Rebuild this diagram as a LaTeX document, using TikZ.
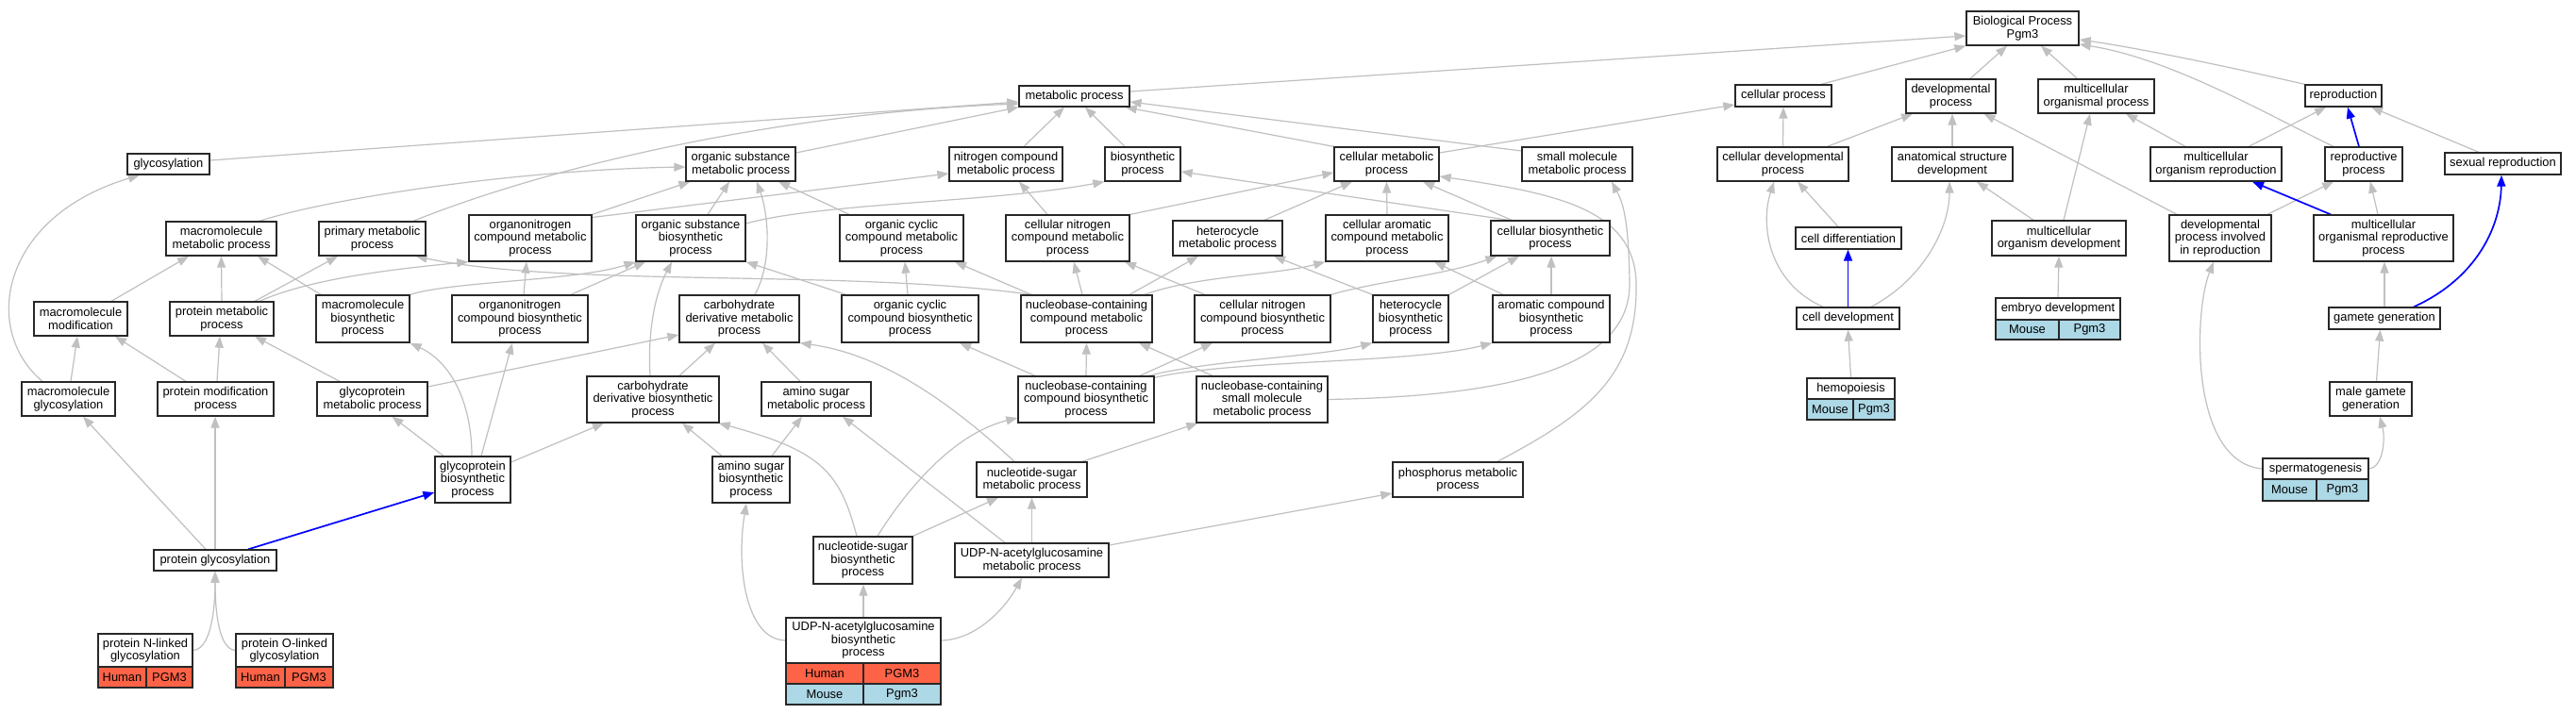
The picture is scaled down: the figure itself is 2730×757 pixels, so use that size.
\documentclass[tikz,border=0pt]{standalone}
\usepackage{fontspec}
\setmainfont{Liberation Sans}
\usetikzlibrary{arrows.meta}
\definecolor{edgegray}{RGB}{192,192,192}
\definecolor{hum}{RGB}{255,99,71}
\definecolor{mou}{RGB}{173,216,230}
\definecolor{bord}{RGB}{40,40,40}
\pgfdeclarelayer{bg}
\pgfsetlayers{bg,main}
\tikzset{
  box/.style={draw=bord, line width=1.3pt, fill=white, align=center, inner sep=0pt, font=\fontsize{12.9}{13.4}\selectfont},
  sz/.style 2 args={minimum width=#1pt, minimum height=#2pt},
  edg/.style={draw=edgegray, line width=1.2pt, -{Triangle[length=12pt,width=9pt]}},
  edgb/.style={draw=blue, line width=1.7pt, -{Triangle[length=12pt,width=9pt]}}
}
\begin{document}
\begin{tikzpicture}[x=1pt,y=-1pt]
\useasboundingbox (0,0) rectangle (2730,757);
% ---------- nodes ----------
\node[box,sz={119}{36}] (bp) at (2143.5,30) {Biological Process\\Pgm3};
\node[box,sz={117}{22}] (met) at (1138.5,102) {metabolic process};
\node[box,sz={102}{23}] (cellp) at (1890,101.5) {cellular process};
\node[box,sz={95}{36}] (devp) at (2067.5,102) {developmental\\process};
\node[box,sz={123}{36}] (mop) at (2221.5,102) {multicellular\\organismal process};
\node[box,sz={81}{23}] (repro) at (2483.5,101.5) {reproduction};
\node[box,sz={87}{22}] (glyc) at (178.5,174) {glycosylation};
\node[box,sz={116}{36}] (osm) at (785,174) {organic substance\\metabolic process};
\node[box,sz={120}{36}] (ncm) at (1066,174) {nitrogen compound\\metabolic process};
\node[box,sz={80}{36}] (bio) at (1211,174) {biosynthetic\\process};
\node[box,sz={111}{36}] (cmp) at (1469.5,174) {cellular metabolic\\process};
\node[box,sz={117}{36}] (smm) at (1671.5,174) {small molecule\\metabolic process};
\node[box,sz={139}{36}] (cdp) at (1889.5,174) {cellular developmental\\process};
\node[box,sz={128}{36}] (asd) at (2069,174) {anatomical structure\\development};
\node[box,sz={139}{36}] (mor) at (2348.5,174) {multicellular\\organism reproduction};
\node[box,sz={82}{36}] (rp) at (2505,174) {reproductive\\process};
\node[box,sz={123}{23}] (sr) at (2652.5,173.5) {sexual reproduction};
\node[box,sz={117}{36}] (mmp) at (234.5,253) {macromolecule\\metabolic process};
\node[box,sz={113}{36}] (pmp) at (394.5,253) {primary metabolic\\process};
\node[box,sz={130}{49}] (oncm) at (562,252.5) {organonitrogen\\compound metabolic\\process};
\node[box,sz={116}{49}] (osb) at (732,252.5) {organic substance\\biosynthetic\\process};
\node[box,sz={131}{49}] (occm) at (955.5,252.5) {organic cyclic\\compound metabolic\\process};
\node[box,sz={131}{49}] (cncm) at (1131.5,252.5) {cellular nitrogen\\compound metabolic\\process};
\node[box,sz={116}{37}] (hm) at (1301,252.5) {heterocycle\\metabolic process};
\node[box,sz={130}{49}] (cacm) at (1470,252.5) {cellular aromatic\\compound metabolic\\process};
\node[box,sz={126}{37}] (cbp) at (1643,252.5) {cellular biosynthetic\\process};
\node[box,sz={112}{23}] (cdiff) at (1959,252.5) {cell differentiation};
\node[box,sz={142}{37}] (mod) at (2182,252.5) {multicellular\\organism development};
\node[box,sz={108}{49}] (dpir) at (2353,252.5) {developmental\\process involved\\in reproduction};
\node[box,sz={148}{49}] (morp) at (2526,252.5) {multicellular\\organismal reproductive\\process};
\node[box,sz={99}{36}] (mmod) at (85.5,338) {macromolecule\\modification};
\node[box,sz={110}{36}] (protm) at (235,338) {protein metabolic\\process};
\node[box,sz={99}{50}] (mbio) at (384.5,338) {macromolecule\\biosynthetic\\process};
\node[box,sz={144}{50}] (oncb) at (551,338) {organonitrogen\\compound biosynthetic\\process};
\node[box,sz={127}{50}] (cdm) at (783.5,338) {carbohydrate\\derivative metabolic\\process};
\node[box,sz={145}{50}] (occb) at (964.5,338) {organic cyclic\\compound biosynthetic\\process};
\node[box,sz={139}{50}] (ncm2) at (1151.5,338) {nucleobase-containing\\compound metabolic\\process};
\node[box,sz={144}{50}] (cncb) at (1338,338) {cellular nitrogen\\compound biosynthetic\\process};
\node[box,sz={80}{50}] (hb) at (1495,338) {heterocycle\\biosynthetic\\process};
\node[box,sz={124}{50}] (acb) at (1644,338) {aromatic compound\\biosynthetic\\process};
\node[box,sz={109}{23}] (cdev) at (1958.5,337.5) {cell development};
\node[box,sz={132}{23}] (embryo) at (2181,327.5) {embryo development};
\node[box,sz={67}{21},fill=mou] (embm) at (2148.5,349.5) {Mouse};
\node[box,sz={65}{21},fill=mou] (embg) at (2214.5,349.5) {Pgm3};
\node[box,sz={118}{23}] (gg) at (2527,337.5) {gamete generation};
\node[box,sz={99}{36}] (mglyc) at (72.5,423) {macromolecule\\glycosylation};
\node[box,sz={123}{36}] (pmod) at (228.5,423) {protein modification\\process};
\node[box,sz={117}{36}] (gpm) at (394.5,423) {glycoprotein\\metabolic process};
\node[box,sz={140}{49}] (cdb) at (692,423.5) {carbohydrate\\derivative biosynthetic\\process};
\node[box,sz={116}{36}] (asm) at (865,423) {amino sugar\\metabolic process};
\node[box,sz={144}{49}] (nccb) at (1151,423.5) {nucleobase-containing\\compound biosynthetic\\process};
\node[box,sz={139}{49}] (ncsm) at (1337.5,423.5) {nucleobase-containing\\small molecule\\metabolic process};
\node[box,sz={93}{22}] (hemo) at (1961.5,412) {hemopoiesis};
\node[box,sz={49}{22},fill=mou] (hemm) at (1939.5,434) {Mouse};
\node[box,sz={44}{22},fill=mou] (hemg) at (1986,434) {Pgm3};
\node[box,sz={87}{36}] (mgg) at (2512.5,423) {male gamete\\generation};
\node[box,sz={80}{49}] (gpb) at (501,508.5) {glycoprotein\\biosynthetic\\process};
\node[box,sz={82}{49}] (asb) at (796,508.5) {amino sugar\\biosynthetic\\process};
\node[box,sz={117}{37}] (nsm) at (1093.5,508.5) {nucleotide-sugar\\metabolic process};
\node[box,sz={138}{37}] (phos) at (1545,508.5) {phosphorus metabolic\\process};
\node[box,sz={112}{22}] (sperm) at (2454,497) {spermatogenesis};
\node[box,sz={57}{23},fill=mou] (spm) at (2426.5,519.5) {Mouse};
\node[box,sz={55}{23},fill=mou] (spg) at (2482.5,519.5) {Pgm3};
\node[box,sz={130}{22}] (pglyc) at (228,594) {protein glycosylation};
\node[box,sz={105}{50}] (nsb) at (914.5,594) {nucleotide-sugar\\biosynthetic\\process};
\node[box,sz={163}{36}] (udpm) at (1093.5,594) {UDP-N-acetylglucosamine\\metabolic process};
\node[box,sz={100}{35}] (pnl) at (154,689.5) {protein N-linked\\glycosylation};
\node[box,sz={51}{22},fill=hum] (pnlh) at (129.5,718) {Human};
\node[box,sz={49}{22},fill=hum] (pnlg) at (179.5,718) {PGM3};
\node[box,sz={103}{35}] (pol) at (301.5,689.5) {protein O-linked\\glycosylation};
\node[box,sz={52}{22},fill=hum] (polh) at (276,718) {Human};
\node[box,sz={51}{22},fill=hum] (polg) at (327.5,718) {PGM3};
\node[box,sz={164}{48}] (udpb) at (915,679) {UDP-N-acetylglucosamine\\biosynthetic\\process};
\node[box,sz={82}{22},fill=hum] (udph) at (874,714) {Human};
\node[box,sz={82}{22},fill=hum] (udphg) at (956,714) {PGM3};
\node[box,sz={82}{22},fill=mou] (udpmo) at (874,736) {Mouse};
\node[box,sz={82}{22},fill=mou] (udpmg) at (956,736) {Pgm3};
% ---------- edges ----------
\begin{pgfonlayer}{bg}
\fill[white] (0,0) rectangle (2730,757);
\draw[edg] ([yshift=5pt]met.east) -- ([yshift=-8pt]bp.west);
\draw[edg] ([xshift=40pt]cellp.north) -- (bp.south west);
\draw[edg] ([xshift=20.5pt]devp.north) -- ([xshift=-16.5pt]bp.south);
\draw[edg] ([xshift=-20pt]mop.north) -- ([xshift=19.5pt]bp.south);
\draw[edg] (repro.north west) .. controls (2350,68) and (2260,50) .. ([yshift=-12pt]bp.east);
\draw[edg] ([xshift=-32pt]rp.north) .. controls (2400,120) and (2300,62) .. ([yshift=-17pt]bp.east);
\draw[edg] ([yshift=4pt]glyc.east) -- ([yshift=-6pt]met.west);
\draw[edg] ([xshift=43.5pt]pmp.north) .. controls (588,174) and (830,120) .. ([yshift=-8pt]met.west);
\draw[edg] ([yshift=12pt]osm.east) -- (met.south west);
\draw[edg] ([xshift=19pt]ncm.north) -- ([xshift=-10.5pt]met.south);
\draw[edg] ([xshift=-19pt]bio.north) -- ([xshift=11.5pt]met.south);
\draw[edg] (cmp.north west) -- ([xshift=-5pt]met.south east);
\draw[edg] ([yshift=14pt]smm.west) -- ([yshift=-6pt]met.east);
\draw[edg] ([yshift=12pt]cmp.east) -- ([yshift=-9.5pt]cellp.west);
\draw[edg] (cdp.north) -- (cellp.south);
\draw[edg] ([xshift=47pt]cdp.north) -- ([xshift=-40.5pt]devp.south);
\draw[edg] (asd.north) -- (asd.north |- devp.south);
\draw[edg] ([xshift=-46pt]dpir.north) -- ([xshift=35pt]devp.south);
\draw[edg] ([xshift=5pt]mod.north) -- ([xshift=-6.5pt]mop.south);
\draw[edg] ([xshift=-32.5pt]mor.north) -- ([xshift=31.5pt]mop.south);
\draw[edg] ([xshift=34.5pt]mor.north) -- ([xshift=-18.5pt]repro.south);
\draw[edgb] ([xshift=-5pt]rp.north) -- ([xshift=4.5pt]repro.south);
\draw[edg] ([xshift=-25.5pt]sr.north) -- ([xshift=29.5pt]repro.south);
\draw[edg] ([xshift=-11pt]cdiff.north) -- ([xshift=15.5pt]cdp.south);
\draw[edgb] (cdev.north) -- (cdev.north |- cdiff.south);
\draw[edg] ([xshift=-26.5pt]cdev.north) .. controls (1875,300) and (1865,240) .. ([xshift=-9.5pt]cdp.south);
\draw[edg] ([xshift=24.5pt]cdev.north) .. controls (2040,295) and (2066,240) .. ([xshift=-3pt]asd.south);
\draw[edg] (hemo.north) -- (cdev.south);
\draw[edg] ([xshift=-27pt]mod.north) -- ([xshift=26pt]asd.south);
\draw[edg] (embryo.north) -- (mod.south);
\draw[edg] ([xshift=50pt]dpir.north) -- ([xshift=-32pt]rp.south);
\draw[edgb] ([xshift=-56pt]morp.north) -- ([xshift=38.5pt]mor.south);
\draw[edg] ([xshift=-6pt]morp.north) -- ([xshift=7pt]rp.south);
\draw[edg] (gg.north) -- (gg.north |- morp.south);
\draw[edgb] ([xshift=31pt]gg.north) .. controls (2625,295) and (2650,240) .. ([xshift=-1.5pt]sr.south);
\draw[edg] ([xshift=6pt]mgg.north) -- ([xshift=-4.5pt]gg.south);
\draw[edg] (sperm.east) .. controls (2526,495) and (2528,465) .. ([xshift=9.5pt]mgg.south);
\draw[edg] (sperm.west) .. controls (2320,490) and (2325,330) .. ([xshift=-7pt]dpir.south);
% metabolic part
\draw[edg] ([xshift=40.5pt]mmp.north) .. controls (350,210) and (550,180) .. ([yshift=-3pt]osm.west);
\draw[edg] ([xshift=32.5pt]mmod.north) -- ([xshift=-34.5pt]mmp.south);
\draw[edg] (protm.north) -- (mmp.south);
\draw[edg] ([xshift=35pt]protm.north) -- ([xshift=-36.5pt]pmp.south);
\draw[edg] ([xshift=40pt]protm.north) .. controls (330,295) and (420,285) .. (oncm.south west);
\draw[edg] ([xshift=-44.5pt]mbio.north) -- ([xshift=38.5pt]mmp.south);
\draw[edg] (mbio.north east) .. controls (480,298) and (610,298) .. (osb.south west);
\draw[edg] (oncm.north east) -- ([xshift=5pt]osm.south west);
\draw[edg] ([yshift=22pt]oncm.east) -- ([yshift=-10pt]ncm.west);
\draw[edg] ([xshift=18pt]osb.north) -- ([xshift=-12pt]osm.south);
\draw[edg] ([yshift=15.5pt]osb.east) .. controls (870,215) and (1050,215) .. (bio.south west);
\draw[edg] ([xshift=4pt]oncb.north) -- ([xshift=-4pt]oncm.south);
\draw[edg] ([xshift=54pt]oncb.north) -- ([xshift=-48pt]osb.south);
\draw[edg] ([xshift=16.5pt]cdm.north) .. controls (818,280) and (815,230) .. ([xshift=17pt]osm.south);
\draw[edg] ([xshift=-55.5pt]occm.north) -- ([xshift=40pt]osm.south);
\draw[edg] ([xshift=28pt]cdb.north) -- ([xshift=-25.5pt]cdm.south);
\draw[edg] ([xshift=-3pt]cdb.north) .. controls (686,350) and (695,310) .. ([xshift=-20pt]osb.south);
\draw[edg] ([xshift=-34.5pt]gpm.north) -- ([xshift=35pt]protm.south);
\draw[edg] ([yshift=13pt]gpm.east) -- ([yshift=-17pt]cdm.west);
\draw[edg] ([xshift=2.5pt]mglyc.north) -- ([xshift=-3.5pt]mmod.south);
\draw[edg] ([xshift=-27.5pt]mglyc.north) .. controls (-20,350) and (0,230) .. ([xshift=-30.5pt]glyc.south);
\draw[edg] ([xshift=-31.5pt]pmod.north) -- ([xshift=36.5pt]mmod.south);
\draw[edg] ([xshift=1.5pt]pmod.north) -- ([xshift=-2pt]protm.south);
\draw[edg] ([xshift=-10pt]pglyc.north) -- ([xshift=15.5pt]mglyc.south);
\draw[edg] (pglyc.north) -- (pglyc.north |- pmod.south);
\draw[edgb] ([xshift=35pt]pglyc.north) -- ([yshift=-13.5pt]gpb.west);
\draw[edg] (pnl.east) .. controls (225,688) and (228,640) .. (pglyc.south);
\draw[edg] (pol.west) .. controls (230,688) and (228,640) .. (pglyc.south);
\draw[edg] ([xshift=-31pt]gpb.north) -- ([xshift=21pt]gpm.south);
\draw[edg] ([xshift=-1pt]gpb.north) .. controls (500,430) and (480,385) .. (mbio.south east);
\draw[edg] ([xshift=9pt]gpb.north) -- ([xshift=-8pt]oncb.south);
\draw[edg] ([yshift=18.5pt]gpb.east) -- ([xshift=-52pt]cdb.south);
\draw[edg] ([xshift=-17pt]asm.north) -- ([xshift=24.5pt]cdm.south);
\draw[edg] ([xshift=-18.5pt]nsm.north) .. controls (1000,420) and (930,375) .. (cdm.south east);
\draw[edg] ([xshift=-31pt]asb.north) -- ([xshift=31pt]cdb.south);
\draw[edg] ([xshift=22pt]asb.north) -- ([xshift=-15pt]asm.south);
\draw[edg] ([xshift=-6.5pt]nsb.north) .. controls (890,500) and (870,478) .. ([xshift=-1pt]cdb.south east);
\draw[edg] (nsb.north east) -- ([xshift=-35.5pt]nsm.south);
\draw[edg] ([xshift=15.5pt]nsb.north) .. controls (960,520) and (1010,460) .. ([yshift=-19.5pt]nccb.west);
\draw[edg] (udpb.north) -- (udpb.north |- nsb.south);
\draw[edg] (udpb.west) .. controls (790,678) and (780,600) .. ([xshift=-5pt]asb.south);
\draw[edg] (udpb.east) .. controls (1035,678) and (1065,645) .. ([xshift=-10.5pt]udpm.south);
\draw[edg] (udpm.north) -- (nsm.south);
\draw[edg] ([xshift=-28.5pt]udpm.north) -- ([xshift=28pt]asm.south);
\draw[edg] ([yshift=16pt]udpm.east) -- ([yshift=-14.5pt]phos.west);
\draw[edg] ([xshift=53.5pt]nsm.north) -- ([xshift=2pt]ncsm.south west);
\draw[edg] (nccb.north) -- (ncm2.south);
\draw[edg] ([xshift=-54pt]nccb.north) -- ([xshift=52.5pt]occb.south);
\draw[edg] ([xshift=57pt]nccb.north) -- ([xshift=-53pt]cncb.south);
\draw[edg] ([xshift=-6pt]nccb.north east) .. controls (1280,382) and (1400,378) .. (hb.south west);
\draw[edg] ([yshift=-2pt]nccb.north east) .. controls (1300,382) and (1500,385) .. (acb.south west);
\draw[edg] ([xshift=-52.5pt]ncsm.north) -- ([xshift=55.5pt]ncm2.south);
\draw[edg] (ncsm.east) .. controls (1600,420) and (1728,390) .. (1727,300) .. controls (1726,232) and (1720,215) .. ([xshift=36.5pt]smm.south);
\draw[edg] ([xshift=42pt]phos.north) .. controls (1680,440) and (1736,400) .. (1734,300) .. controls (1732,222) and (1650,205) .. ([yshift=-13pt]cmp.east);
\draw[edg] ([xshift=-58.5pt]ncm2.north) -- ([xshift=56.5pt]occm.south);
\draw[edg] ([xshift=-58.5pt]ncm2.north) .. controls (900,285) and (600,305) .. ([xshift=-11pt]pmp.south east);
\draw[edg] ([xshift=-4.5pt]ncm2.north) -- ([xshift=6.5pt]cncm.south);
\draw[edg] ([xshift=45.5pt]ncm2.north) -- ([xshift=-31pt]hm.south);
\draw[edg] ([xshift=61.5pt]ncm2.north) .. controls (1270,292) and (1350,292) .. (cacm.south west);
\draw[edg] ([xshift=-61pt]cncb.north) -- ([xshift=60.5pt]cncm.south);
\draw[edg] (cncb.north east) .. controls (1460,298) and (1530,292) .. ([xshift=7pt]cbp.south west);
\draw[edg] (hb.north west) -- ([xshift=49pt]hm.south);
\draw[edg] (hb.north east) -- ([xshift=-33pt]cbp.south);
\draw[edg] ([xshift=-51pt]acb.north) -- ([xshift=50pt]cacm.south);
\draw[edg] (acb.north) -- (acb.north |- cbp.south);
\draw[edg] ([xshift=-2.5pt]occb.north) -- ([xshift=3.5pt]occm.south);
\draw[edg] ([xshift=-68pt]occb.north) -- (osb.south east);
\draw[edg] ([xshift=-21.5pt]cncm.north) -- ([xshift=14pt]ncm.south);
\draw[edg] (cncm.north east) -- ([yshift=-9pt]cmp.west);
\draw[edg] ([xshift=39pt]hm.north) -- ([xshift=-36.5pt]cmp.south);
\draw[edg] (cacm.north) -- (cmp.south);
\draw[edg] ([xshift=-41pt]cbp.north) -- ([xshift=38.5pt]cmp.south);
\draw[edg] ([xshift=-44pt]cbp.north) -- ([yshift=-8pt]bio.east);
\end{pgfonlayer}
\end{tikzpicture}
\end{document}
